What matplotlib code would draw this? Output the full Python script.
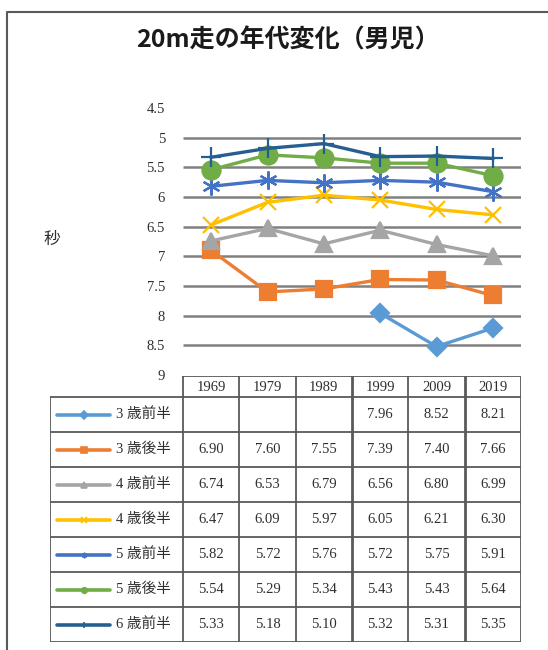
import numpy as np
import matplotlib.pyplot as plt
from matplotlib.lines import Line2D

plt.rcParams['font.family'] = ['Liberation Serif', 'Noto Sans CJK JP']

# Survey years and 20m run times (seconds) per age group
years = ['1969', '1979', '1989', '1999', '2009', '2019']
groups = ['3 歳前半', '3 歳後半', '4 歳前半', '4 歳後半', '5 歳前半', '5 歳後半', '6 歳前半']
t_3a = [np.nan, np.nan, np.nan, 7.96, 8.52, 8.21]
t_3b = [6.90, 7.60, 7.55, 7.39, 7.40, 7.66]
t_4a = [6.74, 6.53, 6.79, 6.56, 6.80, 6.99]
t_4b = [6.47, 6.09, 5.97, 6.05, 6.21, 6.30]
t_5a = [5.82, 5.72, 5.76, 5.72, 5.75, 5.91]
t_5b = [5.54, 5.29, 5.34, 5.43, 5.43, 5.64]
t_6a = [5.33, 5.18, 5.10, 5.32, 5.31, 5.35]
series = [t_3a, t_3b, t_4a, t_4b, t_5a, t_5b, t_6a]

colors = ['#5B9BD5', '#ED7D31', '#A5A5A5', '#FFC000', '#4472C4', '#70AD47', '#255E91']
markers = ['D', 's', '^', 'x', (6, 2, 0), 'o', '+']
msizes = [9, 11, 12, 12, 13, 13, 15]

W, H = 548, 650
fig = plt.figure(figsize=(W / 100, H / 100), dpi=100)
txt = '#2e2e2e'

# frame around the chart
fig.add_artist(Line2D([7 / W, 7 / W, 1], [0, 1 - 12 / H, 1 - 12 / H],
                      color='#595959', lw=1.5))

fig.text(288 / W, 1 - 40 / H, '20m走の年代変化（男児）', ha='center', va='center',
         fontsize=18, fontweight='bold', family=['Noto Sans CJK JP'], color='#1a1a1a')
fig.text(52 / W, 1 - 240 / H, '秒', ha='center', va='center', fontsize=12, color=txt)

# line chart
left, right = 183 / W, 521 / W
ax = fig.add_axes([left, 1 - 375 / H, right - left, (375 - 108) / H])
ax.set_xlim(0, 6)
ax.set_ylim(9, 4.5)
for s in ax.spines.values():
    s.set_visible(False)
ax.set_xticks([])
yt = np.arange(4.5, 9.01, 0.5)
ax.set_yticks(yt)
ax.set_yticklabels(['%g' % v for v in yt], fontsize=10.5, color=txt)
ax.tick_params(axis='y', length=0, pad=13)
ax.hlines(yt[1:-1], 0, 6, color='#808080', lw=1.8, zorder=1)

x = np.arange(len(years)) + 0.5
for vals, c, m, ms in zip(series, colors, markers, msizes):
    ax.plot(x, vals, color=c, lw=2.4, marker=m, ms=ms, mec=c, mew=1.6, zorder=3)

# data table below the chart
tax = fig.add_axes([50 / W, 1 - 642 / H, (521 - 50) / W, (642 - 376) / H])
lw_col = (183 - 50) / ((521 - 183) / 6)
tax.set_xlim(-lw_col, 6)
tax.set_ylim(7.6, 0)
tax.axis('off')
lc = '#595959'
tax.plot([0, 6], [0, 0], color=lc, lw=1.3)
for i in range(8):
    tax.plot([-lw_col, 6], [0.6 + i, 0.6 + i], color=lc, lw=1.3)
tax.plot([-lw_col, -lw_col], [0.6, 7.6], color=lc, lw=1.3)
for j in range(7):
    tax.plot([j, j], [0, 7.6], color=lc, lw=1.3 if j not in (3, 5) else 2)

for j, yr in enumerate(years):
    tax.text(j + 0.5, 0.32, yr, ha='center', va='center', fontsize=10.5, color=txt)

for i, (name, vals, c, m) in enumerate(zip(groups, series, colors, markers)):
    yc = 1.1 + i
    tax.plot([-lw_col + 0.12, -lw_col + 1.07], [yc, yc], color=c, lw=2.6,
             solid_capstyle='round')
    tax.plot([-lw_col + 0.595], [yc], marker=m, color=c, ms=4, mew=1.2)
    tax.text(-lw_col + 1.18, yc, name, ha='left', va='center', fontsize=10.5, color=txt)
    for j, v in enumerate(vals):
        if not np.isnan(v):
            tax.text(j + 0.5, yc, '%.2f' % v, ha='center', va='center',
                     fontsize=10.5, color=txt)

fig.savefig('out.png', dpi=100)
